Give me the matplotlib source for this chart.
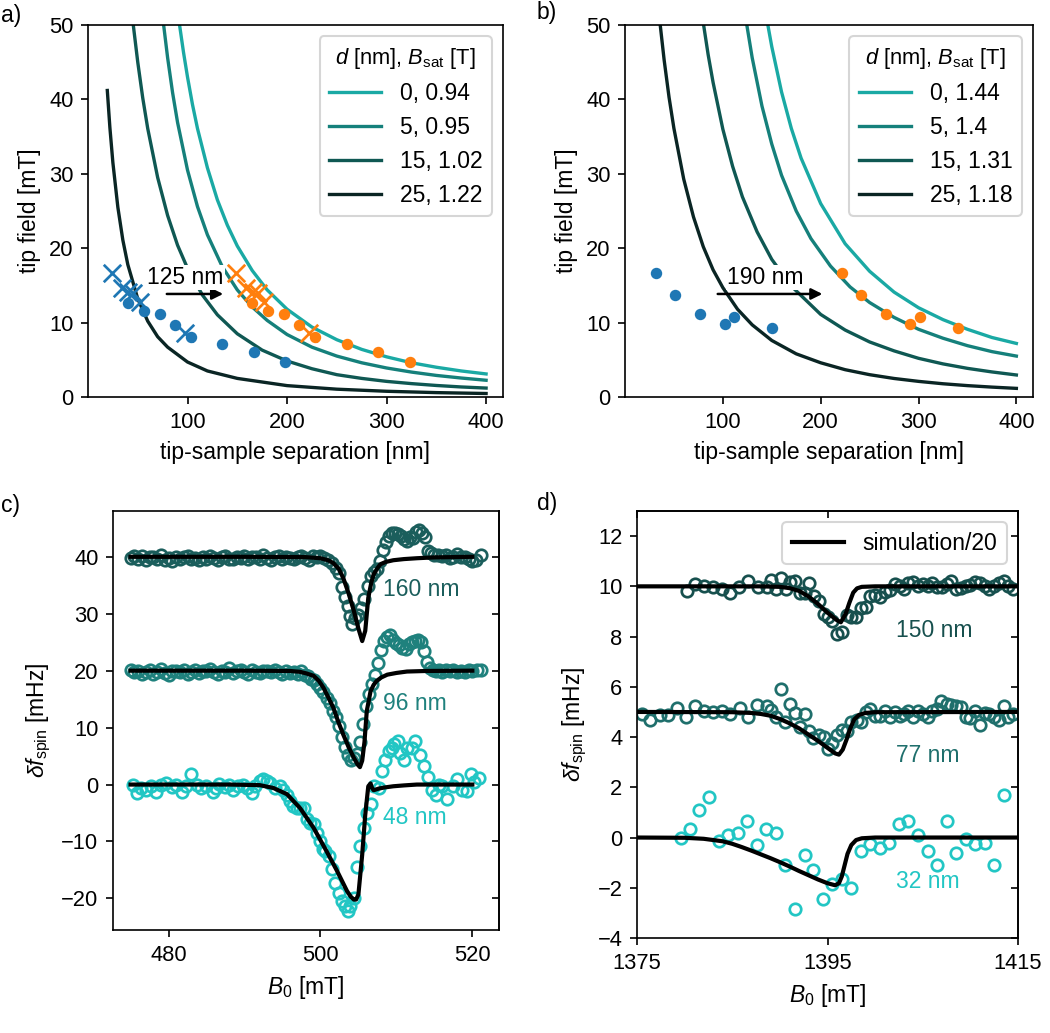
import matplotlib
matplotlib.use('Agg')
import matplotlib.pyplot as plt

plt.rcParams.update({
    'font.family': ['Liberation Sans', 'DejaVu Sans'],
    'font.size': 11,
    'mathtext.fontset': 'custom',
    'mathtext.rm': 'Liberation Sans',
    'mathtext.it': 'Liberation Sans:italic',
    'mathtext.bf': 'Liberation Sans:bold',
})

# ---------------- panel a data ----------------
a_legend = ['0, 0.94', '5, 0.95', '15, 1.02', '25, 1.22']
a0_x = [88, 92, 96, 100, 105, 110, 120, 130, 140, 150, 165, 180, 200, 225, 250, 275, 300, 325, 350, 375, 400]
a0_y = [54.2, 50.0, 46.3, 43.0, 39.3, 36.1, 30.8, 26.5, 23.1, 20.3, 17.0, 14.4, 11.8, 9.4, 7.7, 6.4, 5.4, 4.6, 4.0, 3.5, 3.1]
a1_x = [72, 76, 80, 85, 90, 100, 110, 120, 135, 150, 165, 180, 200, 225, 250, 275, 300, 325, 350, 375, 400]
a1_y = [55.1, 50.0, 45.6, 40.9, 36.9, 30.5, 25.6, 21.8, 17.5, 14.4, 12.1, 10.3, 8.4, 6.7, 5.5, 4.6, 3.9, 3.35, 2.9, 2.55, 2.25]
a2_x = [42, 45.5, 50, 55, 60, 70, 80, 90, 100, 115, 130, 150, 175, 200, 225, 250, 275, 300, 325, 350, 375, 400]
a2_y = [54.4, 50.0, 45.0, 40.2, 36.1, 29.5, 24.4, 20.4, 17.3, 13.7, 11.05, 8.5, 6.3, 4.84, 3.8, 3.0, 2.5, 2.1, 1.8, 1.55, 1.35, 1.2]
a3_x = [19.4, 22, 25, 30, 35, 40, 50, 60, 70, 80, 100, 120, 150, 200, 250, 300, 350, 400]
a3_y = [41.2, 36.2, 31.5, 25.5, 21.1, 17.8, 13.2, 10.2, 8.1, 6.7, 4.7, 3.5, 2.5, 1.53, 1.05, 0.77, 0.59, 0.47]

a_blue_dot_x = [39.8, 56.2, 71.9, 87.3, 103.0, 135.0, 166.6, 198.3]
a_blue_dot_y = [12.7, 11.6, 11.2, 9.7, 8.1, 7.1, 6.1, 4.66]
a_orange_dot_x = [164.8, 181.2, 196.9, 212.3, 228.0, 260.0, 291.6, 323.3]
a_orange_dot_y = [12.7, 11.6, 11.2, 9.7, 8.1, 7.1, 6.1, 4.66]
a_blue_x_x = [23.8, 33.8, 40.5, 45.5, 52.2, 97.3]
a_blue_x_y = [16.6, 14.6, 14.15, 14.0, 12.8, 8.65]
a_orange_x_x = [148.8, 158.8, 165.5, 170.5, 177.2, 222.3]
a_orange_x_y = [16.6, 14.6, 14.15, 14.0, 12.8, 8.65]

# ---------------- panel b data ----------------
b_legend = ['0, 1.44', '5, 1.4', '15, 1.31', '25, 1.18']
b0_x = [140, 146, 150, 160, 170, 180, 200, 225, 250, 275, 300, 325, 350, 375, 400]
b0_y = [54.8, 50.0, 47.1, 41.0, 36.1, 32.1, 26.0, 20.6, 16.9, 14.1, 12.0, 10.4, 9.1, 8.0, 7.2]
b1_x = [120, 124.5, 130, 140, 150, 160, 175, 190, 210, 230, 250, 275, 300, 325, 350, 375, 400]
b1_y = [54.1, 50.0, 45.6, 39.1, 34.0, 29.8, 25.0, 21.3, 17.6, 14.8, 12.7, 10.7, 9.1, 7.9, 6.9, 6.1, 5.5]
b2_x = [76, 80, 85, 90, 100, 110, 120, 135, 150, 170, 200, 225, 250, 275, 300, 325, 350, 375, 400]
b2_y = [54.1, 50.3, 46.0, 42.3, 36.0, 31.0, 26.9, 22.2, 18.5, 14.9, 11.1, 9.0, 7.4, 6.2, 5.2, 4.45, 3.85, 3.37, 2.96]
b3_x = [33, 36, 40, 45, 50, 60, 70, 80, 90, 100, 115, 130, 150, 175, 200, 225, 250, 275, 300, 325, 350, 375, 400]
b3_y = [54.0, 50.0, 45.3, 40.3, 36.1, 29.3, 24.2, 20.2, 17.1, 14.7, 11.8, 9.7, 7.6, 5.8, 4.6, 3.67, 3.0, 2.49, 2.1, 1.78, 1.53, 1.33, 1.16]

b_blue_x = [31.3, 51.4, 76.5, 101.7, 111.9, 150.0]
b_blue_y = [16.7, 13.7, 11.2, 9.77, 10.7, 9.23]
b_orange_x = [221.3, 241.4, 266.5, 291.7, 301.9, 340.0]
b_orange_y = [16.7, 13.7, 11.2, 9.77, 10.7, 9.23]

# ---------------- panel c data ----------------
c_labels = ['160 nm', '96 nm', '48 nm']
c160_x = [475.0 + 0.5 * i for i in range(50)] + [
    500.0, 500.5, 501.0, 501.5, 502.0, 502.5, 502.9, 503.3, 503.6, 503.9, 504.2, 504.6, 505.0, 505.4,
    505.8, 506.2, 506.6, 507.0, 507.4, 507.8, 508.2, 508.6, 509.0, 509.4, 509.8, 510.2, 510.6, 511.0,
    511.4, 511.8, 512.2, 512.6, 513.0, 513.4, 513.8, 514.2, 514.6, 515.0, 515.5, 516.0, 516.5, 517.0,
    517.5, 518.0, 518.5, 519.0, 519.5, 520.0, 520.5, 521.2]
c160_y = [39.8, 40.2, 39.7, 40.1, 39.4, 39.9, 40.0, 39.6, 40.3, 39.5, 39.8, 39.3, 40.0, 39.7, 39.9,
          40.2, 39.6, 39.8, 39.5, 40.0, 39.7, 40.1, 39.8, 39.4, 39.9, 40.1, 39.7, 39.6, 40.0, 39.8,
          40.2, 39.7, 39.9, 40.0, 39.6, 40.4, 39.8, 39.5, 39.9, 40.1, 39.7, 40.0, 39.8, 39.6, 39.9,
          40.2, 39.8, 39.5, 40.1, 39.9,
          40.1, 39.8, 39.5, 38.9, 38.0, 37.2, 34.7, 33.0, 31.4, 29.6, 28.2, 29.2, 29.8, 31.0,
          32.6, 34.8, 36.6, 37.4, 37.8, 39.2, 41.2, 42.6, 43.6, 44.1, 44.2, 44.0, 43.7, 43.2,
          42.8, 43.4, 43.3, 44.3, 44.7, 44.2, 43.4, 41.0, 40.6, 40.3, 40.4, 40.2, 40.3, 39.8,
          40.0, 40.5, 39.9, 40.0, 39.7, 39.2, 39.5, 40.4]
c96_x = [475.0 + 0.5 * i for i in range(46)] + [
    498.0, 498.4, 498.8, 499.2, 499.6, 500.0, 500.4, 500.8, 501.2, 501.6, 502.0, 502.4, 502.8, 503.2,
    503.6, 504.0, 504.4, 504.8, 505.2, 505.6, 506.0, 506.4, 506.8, 507.2, 507.6, 508.0, 508.4, 508.8,
    509.2, 509.6, 510.0, 510.4, 510.8, 511.2, 511.6, 512.0, 512.4, 512.8, 513.2, 513.6, 514.0, 514.4,
    514.8, 515.2, 515.6, 516.0, 516.5, 517.0, 517.5, 518.0, 518.5, 519.0, 519.5, 520.0, 520.6, 521.2]
c96_y = [20.2, 19.8, 20.0, 19.5, 19.7, 20.1, 19.4, 19.8, 20.3, 19.6, 19.2, 19.9, 20.0, 19.7, 20.2,
         19.5, 19.8, 20.1, 19.6, 20.0, 19.9, 20.3, 19.7, 19.5, 20.0, 19.8, 20.4, 19.6, 19.9, 20.1,
         19.7, 19.5, 20.2, 19.8, 19.6, 20.0, 19.9, 19.7, 20.1, 19.8, 19.5, 20.0, 19.6, 19.8, 19.4, 19.9,
         19.3, 19.0, 18.6, 18.3, 17.7, 17.0, 16.2, 15.2, 14.4, 12.9, 11.8, 10.3, 8.4, 6.6,
         5.2, 4.4, 4.6, 5.4, 7.4, 10.6, 13.8, 15.9, 17.6, 19.3, 21.3, 23.6, 25.2, 26.0,
         26.2, 25.4, 24.8, 24.5, 24.0, 23.8, 24.6, 25.0, 25.3, 25.4, 25.0, 23.4, 21.5, 20.4,
         20.1, 19.9, 20.2, 19.8, 20.1, 19.9, 20.2, 19.7, 20.0, 19.8, 20.1, 19.9, 20.2, 20.1]
c48_x = [475.3, 475.8, 476.4, 477.0, 477.7, 478.4, 479.0, 479.7, 480.4, 481.0, 481.8, 482.3, 482.9,
         483.7, 484.3, 485.0, 485.8, 486.3, 486.7, 487.4, 488.0, 488.5, 489.2, 489.8, 490.3, 491.0,
         491.4, 492.0, 492.5, 492.9, 493.4, 494.0, 494.7, 495.1, 495.6, 496.0, 496.4, 496.9, 497.3,
         497.8, 498.2, 498.6, 499.2, 499.5, 500.0, 500.3, 500.6, 501.1, 501.5, 501.9, 502.4, 502.8,
         503.3, 503.6, 503.9, 504.4, 504.8, 505.2, 505.7, 506.1, 506.6, 507.1, 507.7, 508.1, 508.5,
         509.0, 509.4, 509.7, 510.2, 510.5, 511.0, 511.4, 512.0, 512.5, 513.1, 513.6, 514.1, 514.7,
         515.2, 515.6, 516.0, 516.7, 517.4, 518.0, 518.7, 519.3, 519.8, 520.2, 520.9]
c48_y = [0.0, -1.5, -0.6, -0.9, -0.3, -1.3, 0.0, 0.3, -0.5, 0.0, -1.3, -0.3, 1.8,
         0.0, -0.6, -0.3, -1.3, -0.6, 0.1, -0.5, 0.0, -0.9, -0.3, 0.0, -0.6, -1.5,
         -0.3, 0.6, 0.9, 0.6, 0.3, -0.6, -0.3, -0.9, -1.8, -2.9, -3.8, -4.1, -4.1,
         -4.2, -6.1, -6.7, -7.0, -8.5, -9.9, -11.4, -11.7, -12.6, -14.9, -17.3, -19.0, -20.5,
         -21.4, -22.2, -21.4, -19.9, -14.4, -10.8, -7.6, -5.0, -3.5, -0.3, -0.6, 2.3, 4.4,
         5.9, 6.5, 7.1, 7.6, 5.6, 4.4, 6.5, 6.5, 7.6, 5.2, 3.2, 1.3, -0.9,
         -1.8, 0.0, -0.3, -2.6, -0.3, 0.9, -0.9, -1.2, 1.8, 0.5, 1.2]

c160_sim_x = [475, 490, 498, 500, 501, 501.7, 502.4, 503.0, 503.7, 504.4, 505.0, 505.5, 505.9, 506.3, 506.7,
              507.0, 507.5, 507.9, 508.6, 509.6, 511.0, 512.7, 515, 520]
c160_sim_y = [40, 40, 39.95, 39.75, 39.4, 38.9, 37.9, 36.3, 33.6, 30.5, 27.4, 25.2, 27.0, 32.8, 35.5,
              36.9, 38.0, 38.7, 39.1, 39.4, 39.6, 39.75, 39.9, 40]
c96_sim_x = [475, 490, 496, 497.3, 498.2, 499.1, 499.8, 500.4, 501.0, 501.7, 502.3, 503.0, 503.7, 504.4,
             504.9, 505.2, 505.5, 505.8, 506.1, 506.6, 507.0, 507.4, 508.0, 508.8, 510.0, 511.4, 514, 520]
c96_sim_y = [20, 20, 19.95, 19.8, 19.5, 19.1, 18.2, 17.0, 15.4, 13.5, 11.2, 8.8, 6.6, 4.7,
             3.5, 3.06, 4.2, 7.5, 12.9, 16.4, 17.5, 18.2, 18.8, 19.3, 19.6, 19.85, 19.95, 20]
c48_sim_x = [475, 488, 492, 493.8, 495.6, 497.3, 499.1, 500.8, 502.2, 503.5, 504.0, 504.4, 504.7, 505.0,
             505.5, 505.9, 506.3, 506.6, 506.8, 507.0, 507.7, 508.5, 509.6, 511, 512.7, 520]
c48_sim_y = [0, 0, -0.1, -0.6, -1.7, -4.1, -7.6, -11.7, -15.2, -18.7, -19.7, -20.2, -20.2, -19.3,
             -12.3, -5.3, -0.3, 0.2, -0.6, -1.0, -0.7, -0.5, -0.3, -0.15, 0, 0]

# ---------------- panel d data ----------------
d_labels = ['150 nm', '77 nm', '32 nm']
d150_x = [1380.2, 1381.1, 1382.0, 1383.0, 1383.9, 1384.8, 1385.7, 1386.7, 1387.7, 1388.6, 1389.1, 1389.6,
          1390.1, 1390.6, 1391.1, 1391.6, 1392.1, 1392.6, 1393.1, 1393.6, 1394.1, 1394.6, 1395.0, 1395.5,
          1396.0, 1396.5, 1397.0, 1397.5, 1398.0, 1398.5, 1399.0, 1399.5, 1400.0, 1400.5, 1401.0, 1401.6,
          1402.1, 1402.6, 1403.0, 1403.5, 1404.0, 1404.5, 1405.0, 1405.5, 1406.0, 1406.5, 1407.0, 1407.5,
          1408.0, 1408.5, 1409.0, 1409.5, 1410.0, 1410.5, 1411.0, 1411.5, 1412.0, 1412.5, 1413.0, 1413.5,
          1414.0, 1414.5]
d150_y = [9.8, 10.09, 10.0, 9.96, 9.89, 9.73, 9.96, 10.2, 9.96, 9.96, 10.25, 9.89,
          10.33, 9.89, 10.16, 10.23, 9.72, 9.72, 10.13, 9.63, 9.43, 8.89, 8.76, 8.63,
          8.12, 8.2, 8.87, 8.76, 8.79, 9.13, 9.19, 9.63, 9.65, 9.59, 9.76, 9.85,
          10.09, 10.03, 9.89, 10.12, 10.16, 10.03, 10.09, 10.03, 10.13, 9.96, 9.96, 10.09,
          10.2, 9.89, 9.93, 10.03, 10.07, 10.16, 10.12, 10.03, 9.89, 10.03, 10.12, 10.2,
          10.03, 9.89]
d77_x = [1375.5, 1376.4, 1377.4, 1378.3, 1379.2, 1380.1, 1381.1, 1382.0, 1383.0, 1383.9, 1384.8, 1385.8,
         1386.7, 1387.6, 1388.6, 1389.1, 1389.6, 1390.1, 1390.5, 1391.1, 1391.6, 1392.1, 1392.6, 1393.1,
         1393.5, 1394.1, 1394.6, 1395.0, 1395.5, 1396.0, 1396.5, 1397.0, 1397.5, 1398.1, 1398.5, 1399.0,
         1399.5, 1400.0, 1400.5, 1401.0, 1401.6, 1402.1, 1402.6, 1403.0, 1403.5, 1404.0, 1404.5, 1405.0,
         1405.5, 1406.0, 1406.5, 1406.9, 1407.5, 1408.0, 1408.5, 1409.0, 1409.5, 1410.0, 1410.5, 1411.0,
         1411.5, 1412.0, 1412.5, 1413.0, 1413.5, 1414.0, 1414.5]
d77_y = [4.93, 4.69, 4.87, 4.87, 5.16, 4.8, 5.23, 5.03, 5.0, 5.05, 4.93, 5.16,
         4.8, 5.29, 5.25, 5.09, 4.8, 5.93, 4.6, 5.33, 4.96, 4.39, 4.93, 4.25,
         3.96, 4.09, 3.99, 3.52, 3.76, 4.09, 4.29, 4.23, 4.6, 4.69, 4.6, 5.0,
         5.13, 4.83, 4.85, 5.05, 4.8, 5.0, 4.85, 4.93, 5.05, 4.8, 5.05, 4.93,
         4.8, 5.05, 5.13, 5.43, 5.33, 5.27, 5.23, 5.2, 4.8, 4.76, 5.03, 4.47,
         4.96, 4.93, 4.8, 4.69, 5.23, 4.8, 4.93]
d32_x = [1379.6, 1380.6, 1381.5, 1382.6, 1383.6, 1384.6, 1385.6, 1386.6, 1387.6, 1388.5, 1389.6, 1390.5,
         1391.6, 1392.6, 1393.5, 1394.5, 1395.5, 1396.5, 1397.5, 1398.5, 1399.5, 1400.5, 1401.5, 1402.5,
         1403.5, 1404.5, 1405.5, 1406.5, 1407.5, 1408.5, 1409.5, 1410.5, 1411.5, 1412.5, 1413.5]
d32_y = [0.0, 0.32, 1.09, 1.6, -0.15, 0.09, 0.2, 0.67, -0.31, 0.32, 0.2, -1.11,
         -2.84, -0.71, -1.31, -2.44, -1.84, -1.64, -2.0, -0.53, -0.24, -0.41, -0.2, 0.52,
         0.67, 0.12, -0.53, -1.11, 0.65, -0.6, -0.07, -0.24, -0.2, -1.11, 1.69]

d150_sim_x = [1375, 1388, 1390, 1391, 1392, 1393, 1394, 1395, 1396, 1396.4, 1396.9, 1397.3, 1397.7,
              1398.1, 1398.6, 1400, 1415]
d150_sim_y = [10, 10, 9.98, 9.93, 9.82, 9.6, 9.3, 8.95, 8.65, 8.57, 8.9, 9.35, 9.75, 9.92, 9.98, 10, 10]
d77_sim_x = [1375, 1385, 1387, 1388, 1389, 1390, 1391, 1392, 1393, 1394, 1395, 1395.8, 1396.2, 1396.6,
             1397.0, 1397.4, 1397.8, 1398.3, 1399, 1400, 1415]
d77_sim_y = [5, 4.99, 4.96, 4.92, 4.85, 4.72, 4.55, 4.35, 4.1, 3.85, 3.57, 3.35, 3.3, 3.5,
             3.9, 4.35, 4.7, 4.88, 4.96, 4.99, 5]
d32_sim_x = [1375, 1380, 1382, 1384, 1385, 1386, 1387, 1388, 1389, 1390, 1391, 1392, 1393, 1394, 1395,
             1395.8, 1396.2, 1396.5, 1396.8, 1397.1, 1397.5, 1398, 1398.6, 1400, 1415]
d32_sim_y = [0, -0.01, -0.05, -0.15, -0.25, -0.38, -0.52, -0.67, -0.82, -0.98, -1.15, -1.33, -1.5, -1.67,
             -1.82, -1.9, -1.82, -1.55, -1.1, -0.65, -0.3, -0.1, -0.03, 0, 0]

# ---------------- styles ----------------
curve_cols = ['#1aa9a4', '#15807b', '#0f5853', '#0a2524']
c_cols = ['#1b5e5c', '#1f817d', '#22c6c4']
d_cols = ['#17504e', '#1f6f6c', '#22c6c4']
blue = '#1f77b4'
orange = '#ff7f0e'
TICK = 10.5
LEG = dict(fontsize=11, title_fontsize=10.5, labelspacing=0.48, handlelength=2.3)

W, H = 1050, 1033
fig = plt.figure(figsize=(W / 150, H / 150), dpi=150)


def box(l, t, r, b):
    return [l / W, 1 - b / H, (r - l) / W, (b - t) / H]


axa = fig.add_axes(box(88, 25, 503, 397))
axb = fig.add_axes(box(625, 25, 1033, 397))
axc = fig.add_axes(box(113, 511, 499, 930))
axd = fig.add_axes(box(637, 511, 1018, 938))

# panel a
for xs, ys, col, lab in zip([a0_x, a1_x, a2_x, a3_x], [a0_y, a1_y, a2_y, a3_y], curve_cols, a_legend):
    axa.plot(xs, ys, color=col, lw=1.6, label=lab)
axa.scatter(a_blue_dot_x, a_blue_dot_y, s=20, color=blue, zorder=3)
axa.scatter(a_orange_dot_x, a_orange_dot_y, s=20, color=orange, zorder=3)
axa.scatter(a_blue_x_x, a_blue_x_y, s=70, marker='x', color=blue, lw=1.3, zorder=3)
axa.scatter(a_orange_x_x, a_orange_x_y, s=70, marker='x', color=orange, lw=1.3, zorder=3)
axa.annotate('', xy=(140, 13.85), xytext=(75, 13.85),
             arrowprops=dict(arrowstyle='-|>', color='k', lw=1.2, mutation_scale=11), zorder=4)
axa.text(98, 16.1, '125 nm', ha='center', va='center', fontsize=11,
         bbox=dict(fc='white', ec='none', pad=0.5), zorder=4)
axa.set_xlim(0, 417)
axa.set_ylim(0, 50)
axa.set_xticks([100, 200, 300, 400])
axa.set_yticks([0, 10, 20, 30, 40, 50])
axa.set_xlabel('tip-sample separation [nm]')
axa.set_ylabel('tip field [mT]')
axa.legend(title=r'$d$ [nm], $B_\mathrm{sat}$ [T]', loc='upper right', **LEG)

# panel b
for xs, ys, col, lab in zip([b0_x, b1_x, b2_x, b3_x], [b0_y, b1_y, b2_y, b3_y], curve_cols, b_legend):
    axb.plot(xs, ys, color=col, lw=1.6, label=lab)
axb.scatter(b_blue_x, b_blue_y, s=20, color=blue, zorder=3)
axb.scatter(b_orange_x, b_orange_y, s=20, color=orange, zorder=3)
axb.annotate('', xy=(206, 13.85), xytext=(90.5, 13.85),
             arrowprops=dict(arrowstyle='-|>', color='k', lw=1.2, mutation_scale=11), zorder=4)
axb.text(143, 16.1, '190 nm', ha='center', va='center', fontsize=11,
         bbox=dict(fc='white', ec='none', pad=0.5), zorder=4)
axb.set_xlim(0, 417)
axb.set_ylim(0, 50)
axb.set_xticks([100, 200, 300, 400])
axb.set_yticks([0, 10, 20, 30, 40, 50])
axb.set_xlabel('tip-sample separation [nm]')
axb.set_ylabel('tip field [mT]')
axb.legend(title=r'$d$ [nm], $B_\mathrm{sat}$ [T]', loc='upper right', **LEG)

# panel c
for xs, ys, col in zip([c160_x, c96_x, c48_x], [c160_y, c96_y, c48_y], c_cols):
    axc.plot(xs, ys, 'o', mfc='none', mec=col, ms=5.5, mew=1.3)
for xs, ys in zip([c160_sim_x, c96_sim_x, c48_sim_x], [c160_sim_y, c96_sim_y, c48_sim_y]):
    axc.plot(xs, ys, color='k', lw=2)
for lab, yy, col in zip(c_labels, [34.3, 14.2, -5.8], c_cols):
    axc.text(508.2, yy, lab, color=col, ha='left', va='center', fontsize=11)
axc.set_xticks([480, 500, 520])
axc.set_yticks([-20, -10, 0, 10, 20, 30, 40])
axc.set_xlabel(r'$B_0$ [mT]')
axc.set_ylabel(r'$\delta f_\mathrm{spin}$ [mHz]')
sc = axc.secondary_yaxis('right')
sc.set_yticks([-20, -10, 0, 10, 20, 30, 40])
sc.tick_params(direction='in', labelright=False)

# panel d
for xs, ys, col in zip([d150_x, d77_x, d32_x], [d150_y, d77_y, d32_y], d_cols):
    axd.plot(xs, ys, 'o', mfc='none', mec=col, ms=5.5, mew=1.3)
first = True
for xs, ys in zip([d150_sim_x, d77_sim_x, d32_sim_x], [d150_sim_y, d77_sim_y, d32_sim_y]):
    axd.plot(xs, ys, color='k', lw=2, label='simulation/20' if first else None)
    first = False
for lab, yy, col in zip(d_labels, [8.25, 3.25, -1.77], d_cols):
    axd.text(1402.2, yy, lab, color=col, ha='left', va='center', fontsize=11)
axd.set_xlim(1375, 1415)
axd.set_ylim(-4, 13)
axd.set_xticks([1375, 1395, 1415])
axd.set_yticks([-4, -2, 0, 2, 4, 6, 8, 10, 12])
axd.set_xlabel(r'$B_0$ [mT]')
axd.set_ylabel(r'$\delta f_\mathrm{spin}$ [mHz]')
axd.legend(loc='upper right', fontsize=11, handlelength=2.3)
sdy = axd.secondary_yaxis('right')
sdy.set_yticks([-4, -2, 0, 2, 4, 6, 8, 10, 12])
sdy.tick_params(direction='in', labelright=False)
sdx = axd.secondary_xaxis('top')
sdx.set_xticks([1375, 1395, 1415])
sdx.tick_params(direction='in', labeltop=False)

for ax in (axa, axb, axc, axd):
    ax.tick_params(labelsize=TICK)

fig.text(0.001, 0.985, 'a)', ha='left', va='center', fontsize=11)
fig.text(0.511, 0.988, 'b)', ha='left', va='center', fontsize=11)
fig.text(0.001, 0.511, 'c)', ha='left', va='center', fontsize=11)
fig.text(0.511, 0.513, 'd)', ha='left', va='center', fontsize=11)

fig.savefig('out.png', dpi=150)
